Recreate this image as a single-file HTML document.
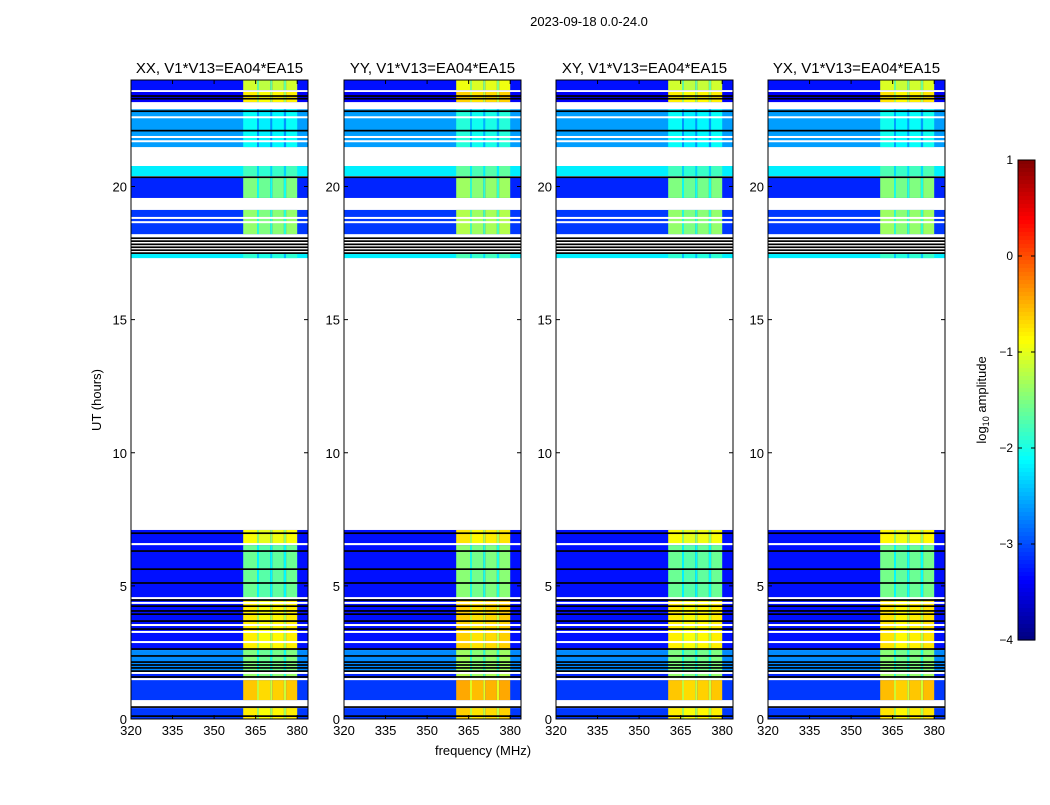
<!DOCTYPE html>
<html><head><meta charset="utf-8">
<style>
body{margin:0;background:#fff;}
svg text{font-family:"Liberation Sans",sans-serif;fill:#000;}
</style></head>
<body>
<svg id="fig" width="1050" height="800" xmlns="http://www.w3.org/2000/svg">
<rect width="1050" height="800" fill="#fff"/>
<text x="589" y="26" font-size="13" text-anchor="middle">2023-09-18 0.0-24.0</text>
<text transform="translate(101,400) rotate(-90)" font-size="13" text-anchor="middle">UT (hours)</text>
<text x="483" y="755" font-size="13" text-anchor="middle">frequency (MHz)</text>
<g id="panels"></g>
<g id="cbar"></g>
</svg>
<script>
// ---- data ----
const panelTitles = ["XX, V1*V13=EA04*EA15","YY, V1*V13=EA04*EA15","XY, V1*V13=EA04*EA15","YX, V1*V13=EA04*EA15"];
const panelBandOffset = [0, 0.15, 0, 0.05];
// segments: start hour, end hour, background log-amplitude, band log-amplitude
const segStart = [23.62,23.17,21.48,20.39,19.57,18.21,17.31,6.53,4.47,2.59,1.76,1.46,0.71,0.0];
const segEnd   = [24.0, 23.55,22.9, 20.77,20.32,19.12,17.47,7.10,6.53,4.47,2.59,1.76,1.46,0.41];
const segBg    = [-3.3,-3.4,-2.6,-2.2,-3.2,-3.1,-2.2,-3.3,-3.3,-3.3,-2.7,-3.2,-3.1,-3.1];
const segBand  = [-1.2,-0.9,-2.2,-1.9,-1.6,-1.5,-2.0,-1.0,-1.7,-0.9,-1.6,-1.5,-0.7,-0.9];
const whiteLines = [22.6,21.86,21.7,18.82,18.66,6.57,4.54,4.36,3.53,3.27,2.89,1.73,1.5];
const blackLines = [23.4,23.3,22.83,22.1,20.35,18.06,17.95,17.83,17.72,17.61,17.5,6.98,6.31,5.63,5.11,4.47,4.24,4.06,3.94,3.68,3.38,2.63,2.37,2.14,2.03,1.92,1.8,1.58,0.45,0.11];
// frequency columns: band segments (MHz) and their offset relative to band level
const bandFreqStart = [360.5,365.5,366.2,370.3,371.0,375.2,376.0];
const bandFreqEnd   = [365.5,366.2,370.3,371.0,375.2,376.0,380.0];
const bandFreqOff   = [0.1,-0.45,0.0,-0.45,0.05,-0.45,0.1];
const xTicks = [320,335,350,365,380];
const yTicks = [0,5,10,15,20];
const cbTicks = [1,0,-1,-2,-3,-4];

// ---- scales ----
const panelX0 = [131,344,556,768], PW = 177, PY0 = 80, PY1 = 719;
const FMIN = 320, FMAX = 320 + 177/2.77;
const yOf = h => PY1 - (h/24)*(PY1-PY0);
function jet(v){ // v in [-4,1]
  let t=(v+4)/5; t=Math.max(0,Math.min(1,t));
  const c=x=>Math.round(255*Math.max(0,Math.min(1,x)));
  const r=c(1.5-Math.abs(4*t-3)), g=c(1.5-Math.abs(4*t-2)), b=c(1.5-Math.abs(4*t-1));
  return `rgb(${r},${g},${b})`;
}
const NS="http://www.w3.org/2000/svg";
function mk(tag,attrs,parent){const e=document.createElementNS(NS,tag);for(const k in attrs)e.setAttribute(k,attrs[k]);parent.appendChild(e);return e;}

const panels=document.getElementById('panels');
panelX0.forEach((x0,p)=>{
  const xOf=f=>x0+(f-FMIN)/(FMAX-FMIN)*PW;
  const g=mk('g',{},panels);
  
  
  segStart.forEach((s,i)=>{
    const y0=yOf(segEnd[i]), y1=yOf(s);
    const bg=mk('rect',{x:x0,y:y0,width:PW,height:y1-y0,fill:jet(segBg[i])},g);
    
    
    bandFreqStart.forEach((f,j)=>{
      const r=mk('rect',{x:xOf(f),y:y0,width:xOf(bandFreqEnd[j])-xOf(f),height:y1-y0,fill:jet(segBand[i]+panelBandOffset[p]+bandFreqOff[j])},g);
      
      
    });
  });
  whiteLines.forEach(h=>{
    const r=mk('rect',{x:x0,y:yOf(h)-1,width:PW,height:2,fill:'#fff'},g);
    
    
  });
  blackLines.forEach(h=>{
    const r=mk('rect',{x:x0,y:yOf(h)-0.8,width:PW,height:1.7,fill:'#000'},g);
    
    
  });
  const fr=mk('rect',{x:x0,y:PY0,width:PW,height:PY1-PY0,fill:'none',stroke:'#000','stroke-width':1},g);
  
  
  const t=mk('text',{x:x0+PW/2,y:73,'font-size':15,'text-anchor':'middle'},g);
  t.textContent=panelTitles[p];
  
  
  xTicks.forEach(f=>{
    const x=xOf(f);
    mk('line',{x1:x,x2:x,y1:PY1,y2:PY1-4,stroke:'#000'},g);
    mk('line',{x1:x,x2:x,y1:PY0,y2:PY0+4,stroke:'#000'},g);
    const l=mk('text',{x:x,y:PY1+16,'font-size':13,'text-anchor':'middle'},g);
    l.textContent=f;
    
    
  });
  yTicks.forEach(h=>{
    const y=yOf(h);
    mk('line',{x1:x0,x2:x0+4,y1:y,y2:y,stroke:'#000'},g);
    mk('line',{x1:x0+PW,x2:x0+PW-4,y1:y,y2:y,stroke:'#000'},g);
    const l=mk('text',{x:x0-4,y:y+5,'font-size':13,'text-anchor':'end'},g);
    l.textContent=h;
    
    
  });
});

// colorbar
const cb=document.getElementById('cbar');


const CBX=1018, CBW=17, CBY0=160, CBY1=640;
for(let i=0;i<120;i++){
  const v=1-5*(i+0.5)/120;
  mk('rect',{x:CBX,y:CBY0+i*(CBY1-CBY0)/120,width:CBW,height:(CBY1-CBY0)/120+0.6,fill:jet(v)},cb);
}
mk('rect',{x:CBX,y:CBY0,width:CBW,height:CBY1-CBY0,fill:'none',stroke:'#000'},cb);
cbTicks.forEach(v=>{
  const y=CBY0+(1-v)/5*(CBY1-CBY0);
  mk('line',{x1:CBX,x2:CBX+4,y1:y,y2:y,stroke:'#000'},cb);
  mk('line',{x1:CBX+CBW,x2:CBX+CBW-4,y1:y,y2:y,stroke:'#000'},cb);
  const l=mk('text',{x:1013,y:y+4,'font-size':12,'text-anchor':'end'},cb);
  l.textContent=v<0?'\u2212'+(-v):String(v);
  
  
});
const cl=mk('text',{transform:'translate(986,400) rotate(-90)','font-size':13,'text-anchor':'middle'},cb);
cl.innerHTML='log<tspan font-size="9" dy="3">10</tspan><tspan dy="-3"> amplitude</tspan>';


</script>
</body></html>
